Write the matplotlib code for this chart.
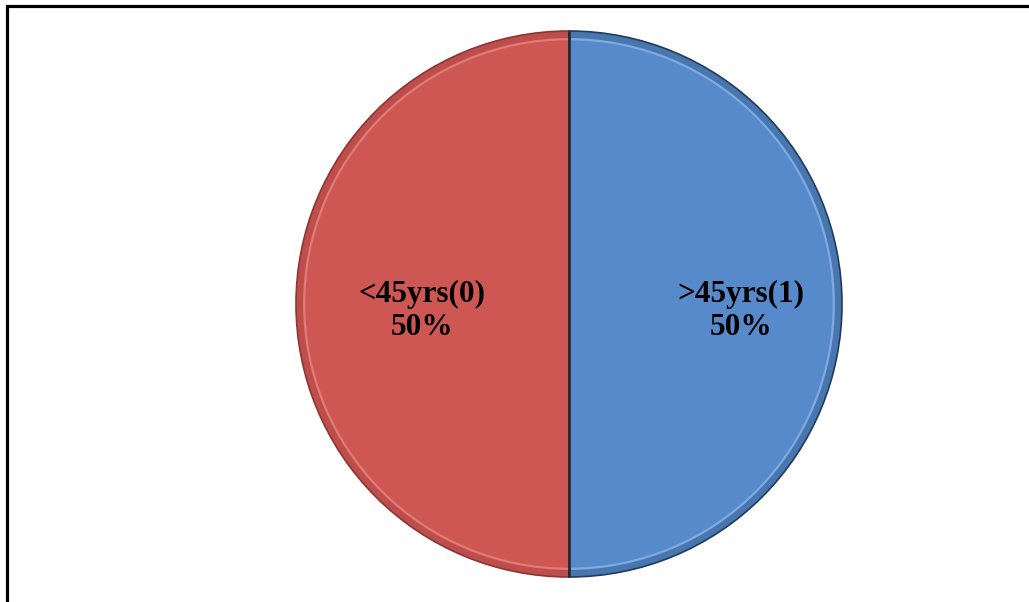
import numpy as np
import matplotlib.pyplot as plt
from matplotlib.patches import Rectangle, Wedge, Arc

# age groups and their share (%)
categories = ['<45yrs(0)', '>45yrs(1)']
shares = [50, 50]
colors = ['#CE5754', '#568ACB']
edge_colors = ['#8E3533', '#1F3B5E']
rim_colors = ['#E07B78', '#7FAAE0']
label_dist = [0.54, 0.63]

fig = plt.figure(figsize=(10.29, 6.02), dpi=100)

# pie axes: square box, centre near (569, 304) px, radius ~273 px
W, H = 1029, 602
cx, cy, r = 569, 304, 273
pad = 1.02
rb = r * pad
ax = fig.add_axes([(cx - rb) / W, (H - cy - rb) / H, 2 * rb / W, 2 * rb / H])

wedges, _ = ax.pie(shares, colors=colors, startangle=90, counterclock=True,
                   radius=1.0, wedgeprops=dict(linewidth=0))
ax.set_xlim(-pad, pad)
ax.set_ylim(-pad, pad)
ax.set_aspect('equal')

# simple bevel: darker rim band, light highlight arc, dark outline
for w, c, ec, rc in zip(wedges, colors, edge_colors, rim_colors):
    t1, t2 = w.theta1, w.theta2
    ax.add_patch(Wedge((0, 0), 1.0, t1, t2, width=0.03, facecolor=ec,
                       alpha=0.25, linewidth=0))
    ax.add_patch(Arc((0, 0), 2 * 0.97, 2 * 0.97, theta1=t1, theta2=t2,
                     color=rc, linewidth=1.6))
    ax.add_patch(Wedge((0, 0), 1.0, t1, t2, facecolor='none', edgecolor=ec,
                       linewidth=1.2))

# dark divider between the two slices
ax.plot([0, 0], [-1, 1], color='#2A2A2A', linewidth=2.0, solid_capstyle='butt')

# labels: category and percentage at the middle angle of each wedge
for w, cat, pct, d in zip(wedges, categories, shares, label_dist):
    ang = np.deg2rad((w.theta1 + w.theta2) / 2)
    ax.text(d * np.cos(ang), d * np.sin(ang) - 0.025, f'{cat}\n{pct}%',
            ha='center', va='center', fontsize=22.5, fontweight='bold',
            family='Liberation Serif', color='black', linespacing=1.15)

# chart border (right and bottom edges run off the image)
fig.add_artist(Rectangle((7 / W, -0.05), 1.05, 1 - 6 / H + 0.05,
                         transform=fig.transFigure, fill=False,
                         edgecolor='black', linewidth=2.3))

fig.savefig('out.png', dpi=100)
